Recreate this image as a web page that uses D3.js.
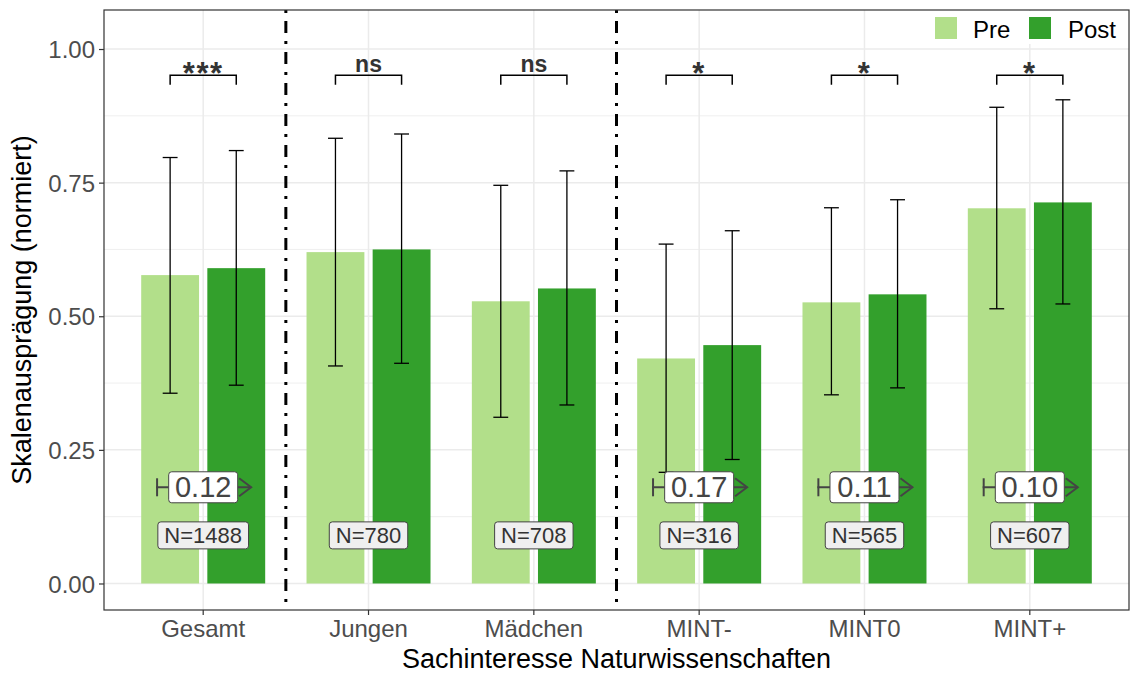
<!DOCTYPE html>
<html><head><meta charset="utf-8">
<script src="https://cdn.jsdelivr.net/npm/d3@7"></script>
<style>body{margin:0;background:#fff}svg{display:block;font-family:"Liberation Sans",Arial,sans-serif}</style>
</head><body>
<svg id="c" width="1130" height="674"></svg>
<script>
const categories = ["Gesamt","Jungen","Mädchen","MINT-","MINT0","MINT+"];
const preMean   = [0.577, 0.620, 0.528, 0.421, 0.526, 0.702];
const postMean  = [0.590, 0.625, 0.552, 0.446, 0.541, 0.713];
const preUpper  = [0.797, 0.833, 0.745, 0.635, 0.703, 0.891];
const preLower  = [0.356, 0.407, 0.311, 0.208, 0.353, 0.514];
const postUpper = [0.810, 0.841, 0.772, 0.660, 0.718, 0.905];
const postLower = [0.371, 0.412, 0.334, 0.232, 0.366, 0.523];
const sigLabels = ["***","ns","ns","*","*","*"];
const effectSizes = ["0.12", null, null, "0.17", "0.11", "0.10"];
const nLabels = ["N=1488","N=780","N=708","N=316","N=565","N=607"];
const yTicks = [0, 0.25, 0.5, 0.75, 1.0];
const yMinor = [0.125, 0.375, 0.625, 0.875];
const seriesNames = ["Pre","Post"];
const colors = ["#b2df8a","#33a02c"];

const L=104, R=1129, T=10, B=610;
const svg = d3.select("#c");
const x = d3.scaleBand().domain(categories).range([L,R]).paddingInner(0).paddingOuter(0.1);
const y = d3.scaleLinear().domain([-0.0496, 1.073]).range([B,T]);
const bw = x.bandwidth();
const cx = c => x(c) + bw/2;

// grid
const g = svg.append("g");
g.selectAll(".mn").data(yMinor).join("line").attr("x1",L).attr("x2",R)
  .attr("y1",d=>y(d)).attr("y2",d=>y(d)).attr("stroke","#ebebeb").attr("stroke-width",0.8);
g.selectAll(".mj").data(yTicks).join("line").attr("x1",L).attr("x2",R)
  .attr("y1",d=>y(d)).attr("y2",d=>y(d)).attr("stroke","#ebebeb").attr("stroke-width",1.5);
g.selectAll(".mv").data(categories).join("line").attr("y1",T).attr("y2",B)
  .attr("x1",d=>cx(d)).attr("x2",d=>cx(d)).attr("stroke","#ebebeb").attr("stroke-width",1.5);

// bars
const data = categories.map((c,i)=>({c,i,vals:[
  {s:0,m:preMean[i],lo:preLower[i],hi:preUpper[i]},
  {s:1,m:postMean[i],lo:postLower[i],hi:postUpper[i]}]}));
const off = s => (s===0 ? -0.2 : 0.2)*bw;
const barW = 0.35*bw;
const capW = 0.09*bw;
data.forEach(d=>{
  d.vals.forEach(v=>{
    const xc = cx(d.c)+off(v.s);
    svg.append("rect").attr("x",xc-barW/2).attr("width",barW)
      .attr("y",y(v.m)).attr("height",y(0)-y(v.m)).attr("fill",colors[v.s]);
  });
});
data.forEach(d=>{
  d.vals.forEach(v=>{
    const xc = cx(d.c)+off(v.s);
    const eg = svg.append("g").attr("stroke","#000").attr("stroke-width",1.3);
    eg.append("line").attr("x1",xc).attr("x2",xc).attr("y1",y(v.hi)).attr("y2",y(v.lo));
    eg.append("line").attr("x1",xc-capW/2).attr("x2",xc+capW/2).attr("y1",y(v.hi)).attr("y2",y(v.hi));
    eg.append("line").attr("x1",xc-capW/2).attr("x2",xc+capW/2).attr("y1",y(v.lo)).attr("y2",y(v.lo));
  });
});

// dash-dot separators
[categories[1], categories[3]].forEach(c=>{
  svg.append("line").attr("x1",x(c)).attr("x2",x(c)).attr("y1",T).attr("y2",B)
    .attr("stroke","#000").attr("stroke-width",3).attr("stroke-dasharray","3,8,12,8")
    .attr("stroke-dashoffset",-31);
});

// significance brackets
const brY = 0.951, brTick = 0.933;
categories.forEach((c,i)=>{
  const x1 = cx(c)+off(0), x2 = cx(c)+off(1);
  svg.append("path").attr("d",`M${x1},${y(brTick)}V${y(brY)}H${x2}V${y(brTick)}`)
    .attr("fill","none").attr("stroke","#000").attr("stroke-width",1.5);
  const star = sigLabels[i].startsWith("*");
  svg.append("text").attr("x",cx(c)).attr("y", star ? y(brY)+9 : y(brY)-3)
    .attr("text-anchor","middle").attr("font-weight","bold")
    .attr("font-size", star ? 31 : 23).attr("fill","#333")
    .attr("letter-spacing", star ? 1.5 : 0)
    .text(sigLabels[i]);
});

// effect size arrows + labels
const effY = 0.18;
categories.forEach((c,i)=>{
  if(!effectSizes[i]) return;
  const xa = cx(c)-0.285*bw, xb = cx(c)+0.29*bw, yy = y(effY);
  const ag = svg.append("g").attr("stroke","#444").attr("stroke-width",2).attr("fill","none");
  ag.append("line").attr("x1",xa).attr("x2",xb).attr("y1",yy).attr("y2",yy);
  ag.append("line").attr("x1",xa+1).attr("x2",xa+1).attr("y1",yy-9).attr("y2",yy+9);
  ag.append("path").attr("d",`M${xb-12},${yy-9}L${xb},${yy}L${xb-12},${yy+9}`);
  const bwid = 69, bh = 31;
  svg.append("rect").attr("x",cx(c)-bwid/2).attr("y",yy-bh/2).attr("width",bwid).attr("height",bh)
    .attr("rx",3).attr("fill","#fff").attr("stroke","#444").attr("stroke-width",1);
  svg.append("text").attr("x",cx(c)).attr("y",yy+10).attr("text-anchor","middle")
    .attr("font-size",29).attr("fill","#444").text(effectSizes[i]);
});

// N labels
const nY = 0.09;
categories.forEach((c,i)=>{
  const yy = y(nY);
  const t = svg.append("text").attr("x",cx(c)).attr("y",yy+8).attr("text-anchor","middle")
    .attr("font-size",22).attr("fill","#333").text(nLabels[i]);
  const w = t.node().getComputedTextLength()+13, h = 27;
  svg.insert("rect", () => t.node()).attr("x",cx(c)-w/2).attr("y",yy-h/2).attr("width",w).attr("height",h)
    .attr("rx",3).attr("fill","#efefef").attr("stroke","#444").attr("stroke-width",1);
});

// legend
const lg = svg.append("g");
lg.append("rect").attr("x",924).attr("y",T+1).attr("width",R-925).attr("height",33).attr("fill","#fff");
const keyX = [935, 1029], txtX = [973, 1068];
seriesNames.forEach((s,i)=>{
  lg.append("rect").attr("x",keyX[i]).attr("y",17).attr("width",22).attr("height",22).attr("fill",colors[i]);
  lg.append("text").attr("x",txtX[i]).attr("y",37.5).attr("font-size",24).attr("fill","#000").text(s);
});

// panel border
svg.append("rect").attr("x",L).attr("y",T).attr("width",R-L).attr("height",B-T)
  .attr("fill","none").attr("stroke","#333").attr("stroke-width",1.2);

// axes
const ya = svg.append("g").attr("transform",`translate(${L},0)`)
  .call(d3.axisLeft(y).tickValues(yTicks).tickFormat(d3.format(".2f")).tickSize(5).tickPadding(4));
const xa = svg.append("g").attr("transform",`translate(0,${B})`)
  .call(d3.axisBottom(x).tickSize(5).tickPadding(5));
[ya,xa].forEach(a=>{
  a.select(".domain").remove();
  a.selectAll(".tick line").attr("stroke","#333").attr("stroke-width",1.2);
  a.selectAll(".tick text").attr("fill","#4d4d4d").attr("font-size",24)
    .attr("font-family","'Liberation Sans',Arial,sans-serif");
});
ya.selectAll(".tick text").attr("dy","0.36em");

svg.append("text").attr("x",(L+R)/2).attr("y",668).attr("text-anchor","middle")
  .attr("font-size",27).attr("fill","#000").text("Sachinteresse Naturwissenschaften");
svg.append("text").attr("transform",`translate(31,${(T+B)/2}) rotate(-90)`).attr("text-anchor","middle")
  .attr("font-size",27).attr("fill","#000").text("Skalenausprägung (normiert)");
</script>
</body></html>
